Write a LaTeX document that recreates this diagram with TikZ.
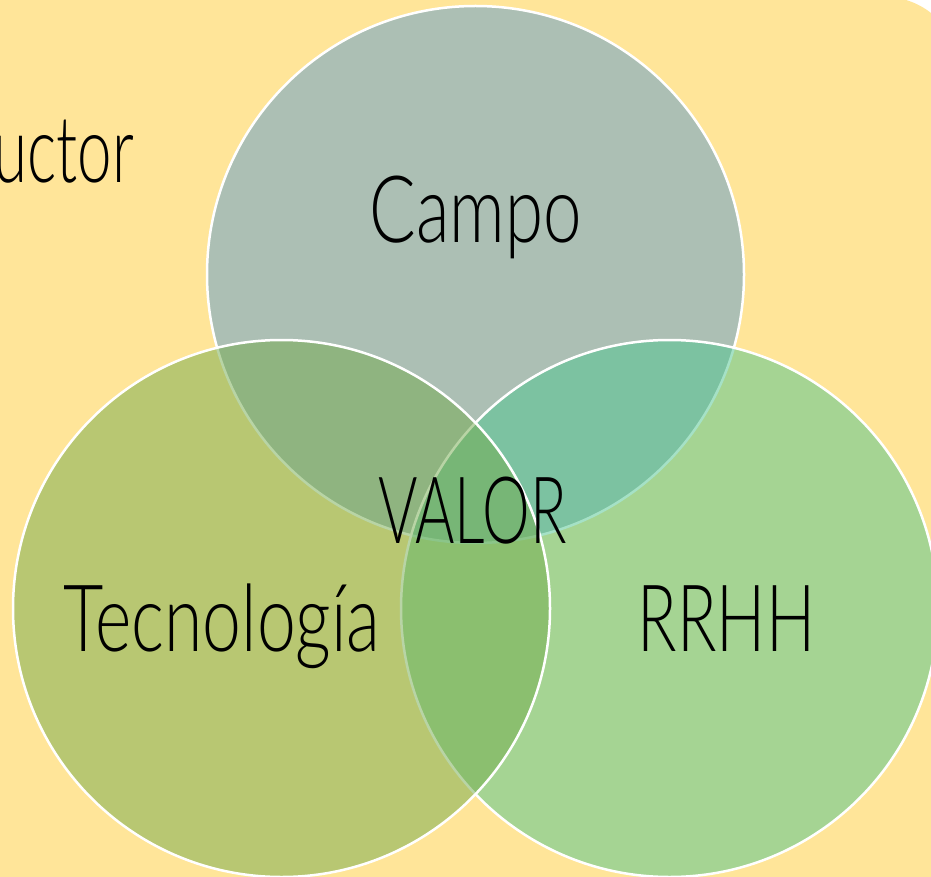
\documentclass[tikz,border=0pt]{standalone}
\usepackage{fontspec}
\usepackage{graphicx}
\newfontfamily\vennfont[FakeStretch=0.7]{Lato Light}
\definecolor{pageyellow}{RGB}{255,229,153}
\definecolor{campoblue}{RGB}{91,155,207}
\definecolor{rrhhgreen}{RGB}{77,197,143}
\definecolor{tecgreen}{RGB}{115,171,77}
\tikzset{
  vennset/.style={circle, draw=white, line width=2.5pt, fill opacity=0.5,
    draw opacity=1, minimum size=537pt, inner sep=0pt},
  vennlabel/.style={font=\vennfont\fontsize{93}{100}\selectfont, text=black,
    inner sep=0pt, anchor=base}
}
\begin{document}
\begin{tikzpicture}[x=1pt,y=-1pt]
  \useasboundingbox (0,0) rectangle (931,877);
  % page background with its rounded corner
  \fill[white] (0,0) rectangle (931,877);
  \fill[pageyellow, rounded corners=74pt] (-200,-3) rectangle (959,1100);

  % the three sets
  \node[vennset, fill=campoblue] (campo) at (475.5,274.5) {};
  \node[vennset, fill=rrhhgreen] (rrhh) at (669.5,608.5) {};
  \node[vennset, fill=tecgreen] (tec) at (281.5,608.5) {};

  % labels
  \node[vennlabel, anchor=base east] (prod) at (134,183) {\scalebox{0.95}[1]{uctor}};
  \node[vennlabel] (campoLbl) at (476,243) {\scalebox{1.06}[1]{Campo}};
  \node[vennlabel] (tecLbl) at (222,651) {\scalebox{1.07}[1]{Tecnología}};
  \node[vennlabel] (rrhhLbl) at (726.5,651) {RRHH};
  \node[vennlabel] (valorLbl) at (472.5,543) {\scalebox{0.925}[1]{VALOR}};
\end{tikzpicture}
\end{document}
